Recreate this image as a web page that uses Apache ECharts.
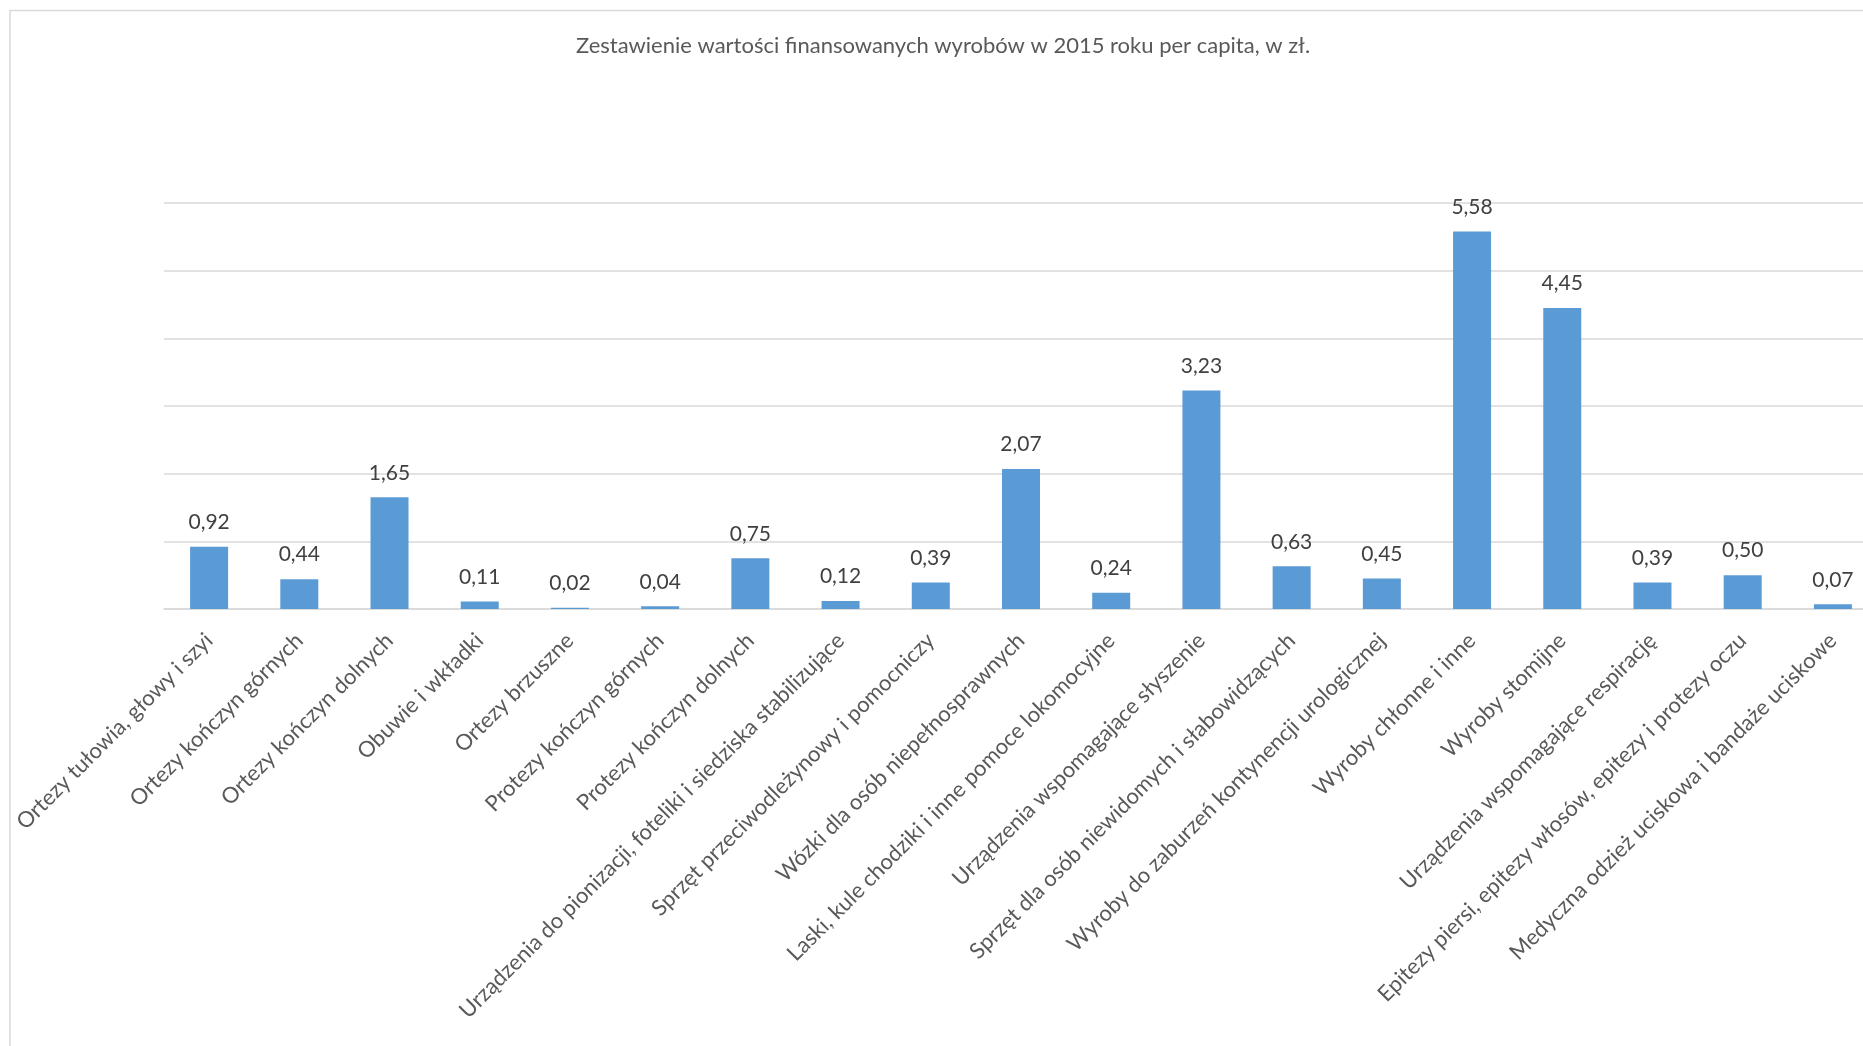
<!doctype html>
<html>
	<head>
		<meta charset="utf-8">
		<title>Zestawienie wartości finansowanych wyrobów</title>
		<style>
			html, body { margin: 0; padding: 0; background: #fff; }
			#chart { width: 1863px; height: 1046px; }
		</style>
	</head>
	<body>
		<div id="chart"></div>
		<script src="https://cdn.jsdelivr.net/npm/echarts@6/dist/echarts.min.js"></script>
		<script type="text/javascript">
			// kategorie wyrobów
			var categories = [
				'Ortezy tułowia, głowy i szyi',
				'Ortezy kończyn górnych',
				'Ortezy kończyn dolnych',
				'Obuwie i wkładki',
				'Ortezy brzuszne',
				'Protezy kończyn górnych',
				'Protezy kończyn dolnych',
				'Urządzenia do pionizacji, foteliki i siedziska stabilizujące',
				'Sprzęt przeciwodleżynowy i pomocniczy',
				'Wózki dla osób niepełnosprawnych',
				'Laski, kule chodziki i inne pomoce lokomocyjne',
				'Urządzenia wspomagające słyszenie',
				'Sprzęt dla osób niewidomych i słabowidzących',
				'Wyroby do zaburzeń kontynencji urologicznej',
				'Wyroby chłonne i inne',
				'Wyroby stomijne',
				'Urządzenia wspomagające respirację',
				'Epitezy piersi, epitezy włosów, epitezy i protezy oczu',
				'Medyczna odzież uciskowa i bandaże uciskowe'
			];
			// wartość per capita, zł
			var values = [0.92, 0.44, 1.65, 0.11, 0.02, 0.04, 0.75, 0.12, 0.39, 2.07, 0.24, 3.23, 0.63, 0.45, 5.58, 4.45, 0.39, 0.50, 0.07];
			var titleText = 'Zestawienie wartości finansowanych wyrobów w 2015 roku per capita, w zł.';

			var font = 'Lato';
			var chart = echarts.init(document.getElementById('chart'));
			var option = {
				animation: false,
				graphic: [{
					type: 'rect',
					shape: { x: 10, y: 10.5, width: 3000, height: 3000 },
					style: { fill: 'none', stroke: '#d9d9d9', lineWidth: 1.5 },
					silent: true
				}, {
					type: 'text',
					x: 943,
					y: 46,
					style: {
						text: titleText,
						fill: '#595959',
						font: '22px ' + font,
						textAlign: 'center',
						textVerticalAlign: 'middle'
					}
				}],
				grid: {
					left: 164,
					top: 203,
					width: 1714,
					height: 406,
					outerBoundsMode: 'none'
				},
				xAxis: {
					type: 'category',
					data: categories,
					axisTick: { show: false },
					axisLine: { lineStyle: { color: '#d9d9d9', width: 1.5 } },
					axisLabel: {
						interval: 0,
						rotate: 45,
						margin: 28,
						color: '#595959',
						fontFamily: font,
						fontSize: 22
					}
				},
				yAxis: {
					type: 'value',
					min: 0,
					max: 6,
					interval: 1,
					axisLabel: { show: false },
					axisLine: { show: false },
					axisTick: { show: false },
					splitLine: { lineStyle: { color: '#d9d9d9', width: 1.5 } }
				},
				series: [{
					type: 'bar',
					data: values,
					barWidth: 38,
					itemStyle: { color: '#5b9bd5' },
					label: {
						show: true,
						position: 'top',
						distance: 14,
						color: '#404040',
						fontFamily: font,
						fontSize: 21,
						formatter: function(p) {
							return p.value.toFixed(2).replace('.', ',');
						}
					}
				}]
			};
			chart.setOption(option);
		</script>
	</body>
</html>
